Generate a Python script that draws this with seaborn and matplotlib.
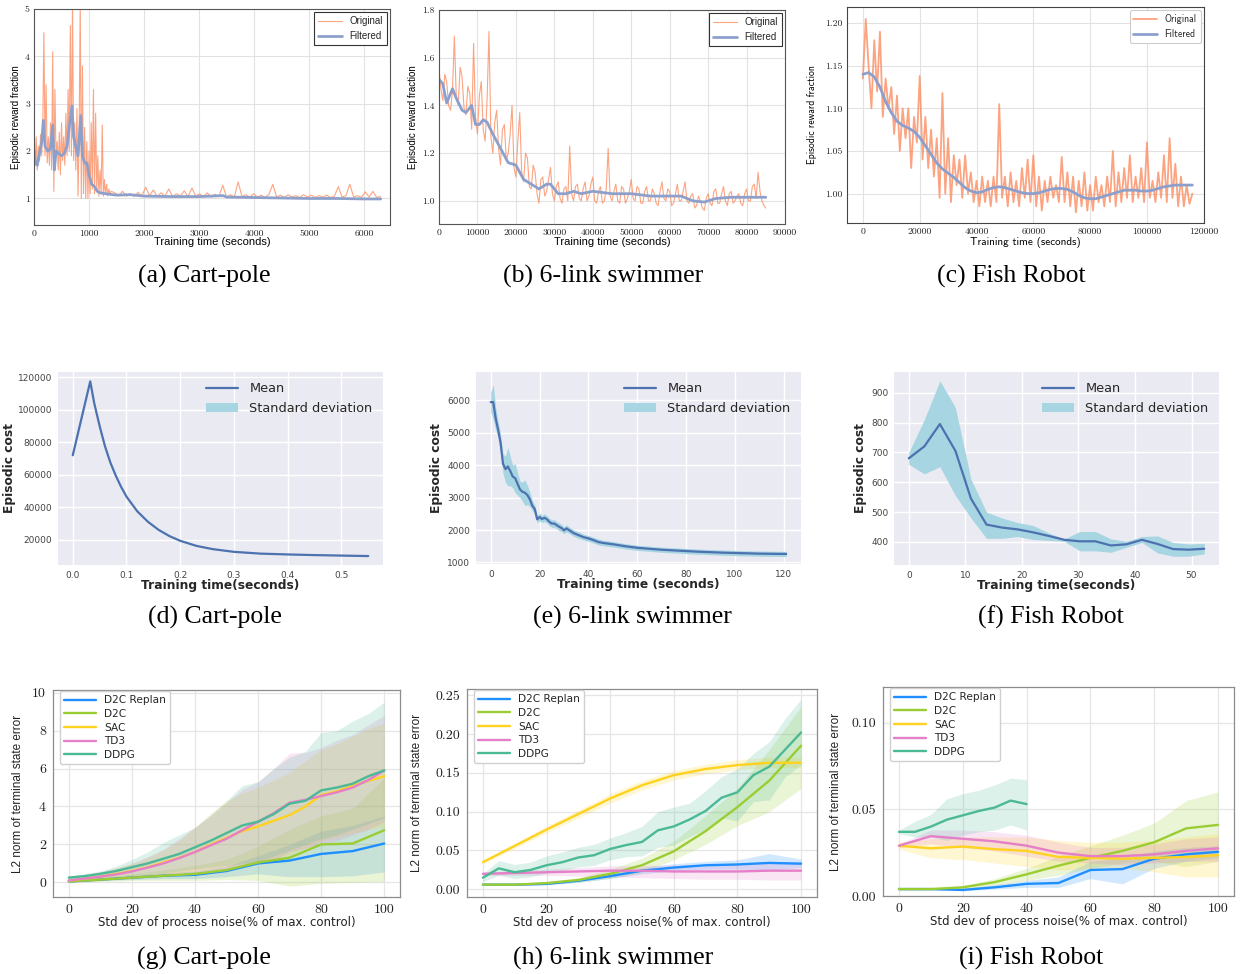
import numpy as np
import matplotlib
matplotlib.use("Agg")
import matplotlib.pyplot as plt
import seaborn as sns
from matplotlib import font_manager

sns.set_theme(style="white")
plt.rcParams["font.family"] = ["DejaVu Sans"]

_names = {f.name for f in font_manager.fontManager.ttflist}
NARROW = "Liberation Sans Narrow" if "Liberation Sans Narrow" in _names else "Liberation Sans"

# ---------------- row 1: reward fraction (original / filtered) ----------------
a_orig_early = [2.35, 1.7, 2.3, 1.6, 2.1, 1.8, 2.35, 1.9, 2.6, 4.5,
                1.9, 3.4, 1.75, 2.3, 1.7, 2.6, 1.6, 4.1, 1.15, 3.3,
                1.9, 2.2, 1.6, 2.4, 1.5, 2.6, 1.8, 2.3, 1.7, 2.8,
                1.9, 3.3, 2.0, 4.65, 1.9, 5.2, 1.8, 2.6, 1.6, 2.9,
                1.05, 2.3, 5.2, 1.0, 3.8, 1.1, 2.5, 1.0, 2.2, 1.0,
                2.0, 1.1, 2.6, 1.2, 3.3, 1.1, 2.8, 1.15, 1.9, 1.05,
                1.6, 1.1, 2.55, 1.05, 1.4, 1.1, 1.3, 1.05, 1.2, 1.1, 1.15]
a_orig_late = [1.12, 1.06, 1.15, 1.05, 1.1, 1.04, 1.13, 1.05, 1.24, 1.06,
               1.18, 1.04, 1.12, 1.05, 1.2, 1.04, 1.1, 1.05, 1.16, 1.04,
               1.22, 1.05, 1.1, 1.04, 1.12, 1.03, 1.09, 1.04, 1.28, 1.03,
               1.08, 1.03, 1.35, 1.04, 1.08, 1.03, 1.1, 1.03, 1.07, 1.02,
               1.09, 1.3, 1.03, 1.07, 1.02, 1.08, 1.03, 1.06, 1.02, 1.08,
               1.03, 1.07, 1.02, 1.06, 1.03, 1.07, 1.02, 1.05, 1.25, 1.03,
               1.06, 1.3, 1.03, 1.06, 1.02, 1.14, 1.03, 1.15, 1.02, 1.04]
a_filt_t = [0, 30, 60, 100, 140, 170, 200, 250, 300, 340, 370, 400, 450, 500, 550,
            600, 650, 690, 720, 760, 800, 850, 880, 920, 960, 1000, 1050, 1100, 1150,
            1200, 1300, 1500, 1750, 2000, 2500, 3000, 3440, 3500, 4000, 4500, 5000,
            5500, 6000, 6300]
a_filt = [2.0, 1.75, 1.7, 1.95, 2.2, 2.65, 2.1, 2.0, 2.05, 2.55, 1.6, 2.0, 1.95, 1.9, 1.95,
          2.1, 2.6, 2.95, 2.3, 2.1, 1.9, 2.75, 1.9, 1.75, 1.75, 1.5, 1.3, 1.25, 1.15,
          1.12, 1.1, 1.07, 1.08, 1.05, 1.04, 1.04, 1.06, 1.03, 1.02, 1.01, 1.0,
          1.0, 0.99, 0.99]

b_orig = [1.55, 1.47, 1.42, 1.53, 1.5, 1.4, 1.38, 1.46, 1.69, 1.43,
          1.4, 1.56, 1.52, 1.39, 1.36, 1.48, 1.45, 1.3, 1.66, 1.35,
          1.28, 1.44, 1.5, 1.3, 1.25, 1.42, 1.71, 1.27, 1.2, 1.33,
          1.38, 1.22, 1.15, 1.3, 1.32, 1.17, 1.2, 1.28, 1.4, 1.14,
          1.1, 1.25, 1.37, 1.12, 1.08, 1.2, 1.18, 1.06, 1.05, 1.15,
          1.12, 1.03, 0.99, 1.09, 1.1, 1.02, 1.04, 1.09, 1.14, 1.03,
          1.0, 1.06, 1.08, 1.01, 0.99, 1.05, 1.06, 1.0, 1.23, 1.03,
          1.0, 1.06, 1.07, 1.01, 1.0, 1.05, 1.08, 1.0, 1.02, 1.07,
          1.1, 1.0, 0.99, 1.04, 1.06, 0.99, 1.0, 1.05, 1.22, 1.02,
          1.0, 1.04, 1.07, 1.0, 0.99, 1.06, 1.05, 0.99, 1.01, 1.04,
          1.09, 1.01, 1.0, 1.06, 1.05, 0.99, 0.99, 1.04, 1.06, 1.0,
          1.0, 1.05, 1.03, 0.99, 0.98, 1.04, 1.08, 1.01, 1.0, 1.05,
          1.04, 0.98, 0.99, 1.03, 1.07, 1.0, 1.0, 1.04, 1.08, 1.0,
          0.99, 1.02, 1.03, 0.97, 0.98, 1.02, 1.0, 0.97, 0.96, 1.01,
          1.03, 0.99, 0.98, 1.04, 1.05, 0.99, 0.99, 1.03, 1.06, 1.0,
          0.98, 1.03, 1.04, 0.99, 1.0, 1.02, 1.03, 0.99, 0.98, 1.03,
          1.05, 1.0, 1.0, 1.06, 1.07, 1.01, 1.12, 1.04, 1.0, 0.98, 0.97]
b_filt_t = [0, 1000, 2000, 3000, 3500, 4500, 6000, 7000, 8500, 9500,
            10500, 11500, 12500, 14000, 16000, 18000, 20000, 22000, 24000, 26000,
            28000, 29000, 31000, 33000, 35000, 37000, 40000, 45000, 50000, 55000,
            60000, 63000, 66000, 69000, 72000, 76000, 80000, 85000]
b_filt = [1.51, 1.49, 1.41, 1.45, 1.47, 1.43, 1.38, 1.37, 1.4, 1.32,
          1.32, 1.34, 1.33, 1.28, 1.22, 1.16, 1.15, 1.09, 1.07, 1.05,
          1.07, 1.07, 1.03, 1.03, 1.04, 1.03, 1.04, 1.03, 1.03, 1.02,
          1.02, 1.02, 1.0, 0.995, 1.01, 1.015, 1.015, 1.015]

c_orig = [1.135, 1.205, 1.15, 1.10, 1.18, 1.12, 1.19, 1.09, 1.135, 1.10,
          1.125, 1.07, 1.115, 1.05, 1.10, 1.065, 1.10, 1.03, 1.09, 1.06,
          1.138, 1.04, 1.09, 1.03, 1.075, 1.02, 1.065, 0.995, 1.118, 1.00,
          1.065, 0.99, 1.045, 1.01, 1.04, 0.995, 1.045, 1.0, 1.025, 0.99,
          1.015, 0.985, 1.02, 0.99, 1.015, 0.985, 1.02, 0.99, 1.105, 0.995,
          1.02, 0.985, 1.025, 0.99, 1.015, 0.985, 1.03, 0.995, 1.04, 0.99,
          1.045, 0.985, 1.02, 0.98, 1.015, 0.99, 1.02, 0.995, 1.01, 0.99,
          1.043, 0.99, 1.025, 0.985, 1.02, 0.978, 1.015, 0.985, 1.025, 0.98,
          1.01, 0.98, 1.02, 0.99, 1.01, 0.985, 1.02, 0.99, 1.05, 0.985,
          1.025, 0.99, 1.03, 0.995, 1.045, 0.99, 1.02, 0.995, 1.03, 0.99,
          1.06, 0.995, 1.015, 0.99, 1.025, 0.995, 1.045, 0.99, 1.065, 0.995,
          1.035, 0.985, 1.02, 0.985, 1.01, 0.988, 1.0]
c_filt = [1.14, 1.142, 1.137, 1.125, 1.108, 1.095, 1.085, 1.08, 1.077, 1.073,
          1.066, 1.056, 1.046, 1.036, 1.029, 1.024, 1.019, 1.013, 1.007, 1.003,
          1.001, 1.002, 1.005, 1.007, 1.008, 1.007, 1.005, 1.003, 1.001, 1.0,
          1.0, 1.001, 1.003, 1.005, 1.006, 1.006, 1.005, 1.002, 0.998, 0.995,
          0.994, 0.994, 0.996, 0.998, 1.0, 1.002, 1.004, 1.004, 1.004, 1.003,
          1.003, 1.004, 1.006, 1.008, 1.009, 1.01, 1.01, 1.01, 1.01]

# ---------------- row 2: episodic cost (mean / std) ----------------
d_t = [0, 0.0325, 0.04, 0.05, 0.06, 0.07, 0.08, 0.09, 0.10, 0.12, 0.14,
       0.16, 0.18, 0.20, 0.23, 0.26, 0.30, 0.35, 0.40, 0.45, 0.50, 0.55]
d_mean = [72000, 117500, 104000, 90000, 77500, 67500, 59500, 52500, 46500, 37500, 31000,
          26000, 22200, 19300, 16200, 14200, 12500, 11400, 10900, 10500, 10200, 9900]
d_std = [300, 400, 350, 300, 300, 250, 250, 200, 200, 200, 150,
         150, 150, 100, 100, 100, 100, 100, 100, 100, 100, 100]

e_t = [0, 1, 2, 3, 4, 5, 6, 7, 8, 9, 10, 11, 12, 13, 14, 15, 16, 17, 18, 19, 20,
       21, 22, 23, 24, 25, 26, 27, 28, 29, 30, 31, 32, 34, 36, 38, 40, 42, 44, 46,
       48, 50, 55, 60, 65, 70, 75, 80, 85, 90, 95, 100, 105, 110, 115, 121]
e_mean = [5950, 5950, 5450, 5100, 4700, 4050, 3880, 3960, 3820, 3650, 3600,
          3420, 3250, 3180, 3150, 3080, 2950, 2750, 2650, 2330, 2400,
          2340, 2380, 2330, 2250, 2200, 2200, 2150, 2100, 2060, 1990, 2050, 2000,
          1900, 1840, 1780, 1740, 1690, 1630, 1600, 1580, 1560,
          1500, 1450, 1420, 1390, 1370, 1350, 1330, 1315, 1300, 1290, 1280, 1270, 1265, 1260]
e_std = [300, 550, 350, 250, 250, 300, 400, 600, 450, 350, 450,
         350, 250, 300, 400, 300, 220, 160, 130, 110, 120,
         110, 120, 110, 120, 110, 120, 110, 120, 110, 100, 110, 100,
         100, 100, 90, 90, 90, 90, 85, 85, 85,
         80, 80, 80, 80, 80, 80, 80, 80, 80, 80, 80, 80, 80, 80]

f_t = [0, 2.75, 5.5, 8.25, 11, 13.75, 16.5, 19.25, 22, 24.75,
       27.5, 30.25, 33, 35.75, 38.5, 41.25, 44, 46.75, 49.5, 52.25]
f_mean = [680, 720, 795, 705, 545, 458, 448, 442, 432, 420,
          407, 402, 402, 388, 392, 407, 393, 376, 374, 377]
f_lo = [660, 628, 652, 555, 480, 412, 412, 418, 408, 405,
        402, 370, 370, 365, 382, 398, 363, 352, 352, 360]
f_hi = [700, 810, 940, 850, 610, 500, 480, 465, 455, 430,
        410, 435, 435, 410, 402, 418, 420, 398, 393, 395]

# ---------------- row 3: terminal state error vs noise ----------------
noise10 = [0, 10, 20, 30, 40, 50, 60, 70, 80, 90, 100]
noise5 = [0, 5, 10, 15, 20, 25, 30, 35, 40, 45, 50, 55, 60, 65, 70, 75, 80, 85, 90, 95, 100]
methods = ["D2C Replan", "D2C", "SAC", "TD3", "DDPG"]
colors = ["#1f8fff", "#9acd32", "#ffd21f", "#e57fc8", "#4cb996"]

# cart-pole
g_replan = [0.05, 0.15, 0.25, 0.35, 0.4, 0.6, 1.0, 1.15, 1.5, 1.65, 2.05]
g_replan_lo = [0.0, 0.1, 0.15, 0.2, 0.2, 0.3, 0.45, 0.3, 0.3, 0.35, 0.55]
g_replan_hi = [0.1, 0.2, 0.35, 0.5, 0.6, 0.85, 1.4, 2.0, 2.7, 3.0, 3.5]
g_d2c = [0.05, 0.15, 0.25, 0.35, 0.45, 0.65, 1.05, 1.3, 2.0, 2.05, 2.75]
g_d2c_lo = [0.0, 0.05, 0.1, 0.1, 0.1, 0.15, 0.1, -0.2, -0.05, 0.0, 0.05]
g_d2c_hi = [0.1, 0.25, 0.45, 0.65, 0.9, 1.2, 1.9, 2.8, 3.5, 3.9, 5.5]
g_sac = [0.1, 0.2, 0.3, 0.45, 0.6, 0.8, 1.05, 1.3, 1.6, 2.0, 2.35,
         2.7, 2.95, 3.25, 3.55, 4.0, 4.6, 4.8, 5.1, 5.35, 5.6]
g_sac_lo = [0.0, 0.05, 0.1, 0.15, 0.2, 0.3, 0.4, 0.5, 0.6, 0.7, 0.8,
            0.9, 1.0, 1.2, 1.4, 1.8, 2.2, 2.4, 2.6, 2.8, 2.9]
g_sac_hi = [0.25, 0.4, 0.55, 0.75, 1.0, 1.3, 1.7, 2.2, 2.9, 3.6, 4.3,
            4.7, 5.0, 5.4, 5.8, 6.4, 7.0, 7.3, 7.7, 8.1, 8.4]
g_td3 = [0.1, 0.2, 0.3, 0.42, 0.58, 0.78, 1.0, 1.28, 1.6, 1.95, 2.3,
         2.75, 3.2, 3.65, 4.2, 4.35, 4.55, 4.75, 5.0, 5.4, 5.9]
g_td3_lo = [0.0, 0.05, 0.1, 0.15, 0.2, 0.25, 0.3, 0.4, 0.5, 0.6, 0.7,
            0.8, 1.0, 1.2, 1.6, 1.8, 2.0, 2.2, 2.5, 2.8, 3.2]
g_td3_hi = [0.3, 0.42, 0.55, 0.75, 1.0, 1.35, 1.75, 2.3, 2.9, 3.5, 4.2,
            4.9, 5.3, 6.0, 6.8, 6.85, 7.1, 7.5, 7.8, 8.3, 8.8]
g_ddpg = [0.25, 0.33, 0.45, 0.6, 0.8, 1.0, 1.25, 1.5, 1.85, 2.2, 2.6,
          3.0, 3.2, 3.6, 4.15, 4.3, 4.85, 5.0, 5.2, 5.6, 5.9]
g_ddpg_lo = [0.15, 0.18, 0.22, 0.27, 0.33, 0.4, 0.5, 0.6, 0.7, 0.8, 0.9,
             1.0, 1.1, 1.4, 1.7, 2.0, 2.3, 2.5, 2.8, 3.1, 3.4]
g_ddpg_hi = [0.35, 0.45, 0.6, 0.85, 1.2, 1.6, 2.1, 2.5, 2.9, 3.6, 4.3,
             5.1, 5.3, 6.0, 6.6, 6.9, 7.9, 8.0, 8.5, 8.9, 9.5]

# 6-link swimmer
h_replan = [0.006, 0.006, 0.007, 0.011, 0.017, 0.024, 0.028, 0.031, 0.032, 0.034, 0.033]
h_replan_lo = [0.005, 0.005, 0.006, 0.009, 0.014, 0.02, 0.024, 0.026, 0.026, 0.025, 0.028]
h_replan_hi = [0.007, 0.007, 0.008, 0.013, 0.02, 0.028, 0.033, 0.036, 0.038, 0.046, 0.039]
h_d2c = [0.006, 0.006, 0.008, 0.012, 0.02, 0.031, 0.049, 0.075, 0.106, 0.14, 0.185]
h_d2c_lo = [0.005, 0.005, 0.006, 0.009, 0.014, 0.022, 0.038, 0.058, 0.082, 0.1, 0.13]
h_d2c_hi = [0.007, 0.007, 0.01, 0.015, 0.026, 0.04, 0.062, 0.095, 0.13, 0.18, 0.235]
h_sac = [0.035, 0.056, 0.077, 0.097, 0.117, 0.134, 0.147, 0.155, 0.16, 0.163, 0.163]
h_sac_lo = [0.033, 0.053, 0.073, 0.092, 0.111, 0.128, 0.141, 0.149, 0.154, 0.157, 0.157]
h_sac_hi = [0.037, 0.059, 0.081, 0.102, 0.123, 0.14, 0.153, 0.161, 0.167, 0.17, 0.17]
h_td3 = [0.020, 0.021, 0.022, 0.023, 0.024, 0.024, 0.023, 0.023, 0.023, 0.024, 0.024]
h_td3_lo = [0.018, 0.018, 0.018, 0.017, 0.016, 0.015, 0.014, 0.013, 0.013, 0.012, 0.012]
h_td3_hi = [0.022, 0.024, 0.026, 0.028, 0.03, 0.031, 0.031, 0.032, 0.033, 0.035, 0.036]
h_ddpg = [0.015, 0.027, 0.022, 0.025, 0.031, 0.035, 0.041, 0.044, 0.052, 0.057, 0.061,
          0.076, 0.081, 0.09, 0.101, 0.118, 0.125, 0.147, 0.158, 0.18, 0.202]
h_ddpg_lo = [0.01, 0.018, 0.014, 0.016, 0.021, 0.024, 0.029, 0.031, 0.038, 0.042, 0.043,
             0.054, 0.057, 0.068, 0.077, 0.092, 0.088, 0.113, 0.115, 0.145, 0.16]
h_ddpg_hi = [0.02, 0.037, 0.032, 0.035, 0.043, 0.048, 0.054, 0.058, 0.066, 0.073, 0.081,
             0.1, 0.106, 0.111, 0.127, 0.145, 0.155, 0.175, 0.19, 0.22, 0.245]

# fish robot
i_replan = [0.004, 0.004, 0.0035, 0.005, 0.007, 0.0075, 0.015, 0.0155, 0.0215, 0.024, 0.0255]
i_replan_lo = [0.0035, 0.0035, 0.003, 0.004, 0.005, 0.005, 0.01, 0.007, 0.016, 0.02, 0.022]
i_replan_hi = [0.0045, 0.0045, 0.0045, 0.0065, 0.009, 0.011, 0.02, 0.022, 0.026, 0.028, 0.029]
i_d2c = [0.004, 0.004, 0.005, 0.008, 0.0125, 0.0175, 0.022, 0.026, 0.031, 0.039, 0.041]
i_d2c_lo = [0.0035, 0.0035, 0.004, 0.006, 0.009, 0.012, 0.016, 0.019, 0.02, 0.017, 0.02]
i_d2c_hi = [0.0045, 0.0045, 0.006, 0.01, 0.016, 0.023, 0.029, 0.035, 0.042, 0.055, 0.06]
i_sac = [0.029, 0.0275, 0.0285, 0.027, 0.026, 0.0225, 0.022, 0.0215, 0.022, 0.0225, 0.0235]
i_sac_lo = [0.027, 0.022, 0.021, 0.019, 0.017, 0.015, 0.016, 0.016, 0.014, 0.011, 0.011]
i_sac_hi = [0.031, 0.033, 0.034, 0.034, 0.034, 0.032, 0.031, 0.031, 0.032, 0.034, 0.036]
i_td3 = [0.029, 0.0345, 0.033, 0.0315, 0.029, 0.025, 0.023, 0.023, 0.024, 0.026, 0.0275]
i_td3_lo = [0.028, 0.03, 0.028, 0.026, 0.023, 0.02, 0.019, 0.018, 0.019, 0.02, 0.02]
i_td3_hi = [0.03, 0.038, 0.038, 0.037, 0.035, 0.031, 0.028, 0.028, 0.03, 0.033, 0.034]
i_ddpg_x = [0, 5, 10, 15, 20, 25, 30, 35, 40]
i_ddpg = [0.037, 0.037, 0.04, 0.044, 0.0465, 0.049, 0.051, 0.055, 0.053]
i_ddpg_lo = [0.036, 0.034, 0.034, 0.032, 0.035, 0.037, 0.038, 0.041, 0.038]
i_ddpg_hi = [0.038, 0.043, 0.047, 0.056, 0.059, 0.061, 0.064, 0.068, 0.067]

W, H = 1243, 974
fig = plt.figure(figsize=(W / 100, H / 100), dpi=100)


def add_ax(l, t, r, b):
    return fig.add_axes([l / W, 1 - b / H, (r - l) / W, (b - t) / H])


def caption(x, y, text):
    fig.text(x / W, 1 - y / H, text, ha="center", va="center",
             family="Liberation Serif", size=18.5, color="black")


# ---------- top row ----------
def top_panel(box, t_o, y_o, t_f, y_f, xlim, ylim, xt, yt, lab_font, ylx, xly, lw_o, fancy):
    ax = add_ax(*box)
    ax.set_facecolor("white")
    sns.lineplot(x=t_o, y=y_o, ax=ax, color="#fc8d62", lw=lw_o, alpha=0.8, label="Original")
    sns.lineplot(x=t_f, y=y_f, ax=ax, color="#8da0cb", lw=2.0, label="Filtered")
    ax.set_xlim(*xlim)
    ax.set_ylim(*ylim)
    ax.set_xticks(xt)
    ax.set_yticks(yt)
    ax.grid(True, color="#e2e2e2", lw=0.8)
    for s in ax.spines.values():
        s.set_visible(True)
        s.set_color("#555555" if not fancy else "#444444")
        s.set_linewidth(0.8)
    ax.tick_params(length=0, labelsize=7, labelfontfamily="cmr10", labelcolor="#222222", pad=3)
    ax.set_xlabel("Training time (seconds)", family=lab_font, size=8, color="black")
    ax.set_ylabel("Episodic reward fraction", family=lab_font, size=7, color="black")
    ax.xaxis.set_label_coords(0.5, xly)
    ax.yaxis.set_label_coords(ylx, 0.5)
    leg = ax.legend(loc="upper right", fancybox=fancy, framealpha=1,
                    borderaxespad=0.35, handlelength=2.4,
                    prop={"family": lab_font, "size": 7})
    leg.get_frame().set_edgecolor("#cccccc" if fancy else "#333333")
    leg.get_frame().set_linewidth(0.8)
    return ax


a_t = np.concatenate([np.linspace(0, 1400, len(a_orig_early)),
                      np.linspace(1470, 6300, len(a_orig_late))])
top_panel((34, 9, 390, 225), a_t, a_orig_early + a_orig_late, a_filt_t, a_filt,
          (0, 6470), (0.44, 5), range(0, 7000, 1000), [1, 2, 3, 4, 5],
          "Liberation Sans", -0.037, -0.056, 0.8, False)
top_panel((439, 10, 785, 224), np.linspace(0, 85000, len(b_orig)), b_orig, b_filt_t, b_filt,
          (0, 90000), (0.903, 1.8), range(0, 100000, 10000), [1.0, 1.2, 1.4, 1.6, 1.8],
          "Liberation Sans", -0.061, -0.061, 0.8, False)
top_panel((847, 7, 1204, 223), np.linspace(0, 116000, len(c_orig)), c_orig,
          np.linspace(0, 116000, len(c_filt)), c_filt,
          (-5600, 120100), (0.9655, 1.219), range(0, 140000, 20000),
          [1.00, 1.05, 1.10, 1.15, 1.20],
          "cmss10", -0.084, -0.065, 1.3, True)


# ---------- middle row ----------
def mid_panel(box, t, mean, lo, hi, xt, yt, ylx, xlabel, ylim=None):
    ax = add_ax(*box)
    ax.set_facecolor("#eaeaf2")
    ax.fill_between(t, lo, hi, color="#a8d5e2", lw=0, label="Standard deviation")
    sns.lineplot(x=t, y=mean, ax=ax, color="#4c72b0", lw=1.6, label="Mean")
    ax.set_xticks(xt)
    ax.set_yticks(yt)
    if ylim is not None:
        ax.set_ylim(*ylim)
    ax.grid(True, color="white", lw=1.0)
    for s in ax.spines.values():
        s.set_visible(False)
    ax.tick_params(length=0, labelsize=6.5, labelcolor="#444444", pad=4)
    ax.set_xlabel(xlabel, weight="bold", size=8.8, color="#262626")
    ax.set_ylabel("Episodic cost", weight="bold", size=8.8, color="#262626")
    ax.xaxis.set_label_coords(0.5, -0.075)
    ax.yaxis.set_label_coords(ylx, 0.5)
    h, l = ax.get_legend_handles_labels()
    order = [l.index("Mean"), l.index("Standard deviation")]
    ax.legend([h[k] for k in order], [l[k] for k in order], loc="upper right",
              frameon=False, fontsize=9.3, handlelength=2.5, handletextpad=0.9,
              borderaxespad=0.4)
    return ax


d_lo = [m - s for m, s in zip(d_mean, d_std)]
d_hi = [m + s for m, s in zip(d_mean, d_std)]
mid_panel((58, 372, 383, 565), d_t, d_mean, d_lo, d_hi,
          [0.0, 0.1, 0.2, 0.3, 0.4, 0.5], [20000, 40000, 60000, 80000, 100000, 120000],
          -0.13, "Training time(seconds)")
e_lo = [m - s for m, s in zip(e_mean, e_std)]
e_hi = [m + s for m, s in zip(e_mean, e_std)]
mid_panel((476, 372, 801, 564), e_t, e_mean, e_lo, e_hi,
          [0, 20, 40, 60, 80, 100, 120], [1000, 2000, 3000, 4000, 5000, 6000],
          -0.1015, "Training time (seconds)", ylim=(950, 6880))
mid_panel((894, 372, 1219, 565), f_t, f_mean, f_lo, f_hi,
          [0, 10, 20, 30, 40, 50], [400, 500, 600, 700, 800, 900],
          -0.083, "Training time(seconds)")


# ---------- bottom row ----------
def bottom_panel(box, series, ylim, yt, ylx):
    ax = add_ax(*box)
    ax.set_facecolor("white")
    for name, col, x, m, lo, hi in series:
        ax.fill_between(x, lo, hi, color=col, alpha=0.2, lw=0)
    for name, col, x, m, lo, hi in series:
        sns.lineplot(x=x, y=m, ax=ax, color=col, lw=1.7, label=name)
    ax.set_xlim(-5, 105)
    ax.set_ylim(*ylim)
    ax.set_xticks([0, 20, 40, 60, 80, 100])
    ax.set_yticks(yt)
    ax.grid(True, color="#e6e6e6", lw=0.9)
    for s in ax.spines.values():
        s.set_visible(True)
        s.set_color("#8c8c8c")
        s.set_linewidth(0.9)
    ax.tick_params(length=3, width=0.8, color="#8c8c8c", labelsize=10,
                   labelfontfamily="cmr10", labelcolor="#222222", pad=2)
    ax.set_xlabel("Std dev of process noise(% of max. control)", size=8.5, color="#222222")
    ax.set_ylabel("L2 norm of terminal state error", family=NARROW, size=8.5, color="#222222")
    ax.xaxis.set_label_coords(0.5, -0.09)
    ax.yaxis.set_label_coords(ylx, 0.5)
    leg = ax.legend(loc="upper left", bbox_to_anchor=(0.02, 0.995), borderaxespad=0,
                    fontsize=7.6, handlelength=3.0, labelspacing=0.35, framealpha=1)
    leg.get_frame().set_edgecolor("#d0d0d0")
    return ax


g_series = [
    (methods[0], colors[0], noise10, g_replan, g_replan_lo, g_replan_hi),
    (methods[1], colors[1], noise10, g_d2c, g_d2c_lo, g_d2c_hi),
    (methods[2], colors[2], noise5, g_sac, g_sac_lo, g_sac_hi),
    (methods[3], colors[3], noise5, g_td3, g_td3_lo, g_td3_hi),
    (methods[4], colors[4], noise5, g_ddpg, g_ddpg_lo, g_ddpg_hi),
]
bottom_panel((53, 690, 400, 897), g_series, (-0.77, 10.14), [0, 2, 4, 6, 8, 10], -0.084)

h_series = [
    (methods[0], colors[0], noise10, h_replan, h_replan_lo, h_replan_hi),
    (methods[1], colors[1], noise10, h_d2c, h_d2c_lo, h_d2c_hi),
    (methods[2], colors[2], noise10, h_sac, h_sac_lo, h_sac_hi),
    (methods[3], colors[3], noise10, h_td3, h_td3_lo, h_td3_hi),
    (methods[4], colors[4], noise5, h_ddpg, h_ddpg_lo, h_ddpg_hi),
]
bottom_panel((467, 689, 817, 897), h_series, (-0.0099, 0.258),
             [0.0, 0.05, 0.10, 0.15, 0.20, 0.25], -0.126)

i_series = [
    (methods[0], colors[0], noise10, i_replan, i_replan_lo, i_replan_hi),
    (methods[1], colors[1], noise10, i_d2c, i_d2c_lo, i_d2c_hi),
    (methods[2], colors[2], noise10, i_sac, i_sac_lo, i_sac_hi),
    (methods[3], colors[3], noise10, i_td3, i_td3_lo, i_td3_hi),
    (methods[4], colors[4], i_ddpg_x, i_ddpg, i_ddpg_lo, i_ddpg_hi),
]
bottom_panel((883, 687, 1234, 896), i_series, (0.0, 0.1205), [0.0, 0.05, 0.10], -0.117)

# ---------- captions ----------
caption(204, 276, "(a) Cart-pole")
caption(603, 276, "(b) 6-link swimmer")
caption(1011, 276, "(c) Fish Robot")
caption(215, 617, "(d) Cart-pole")
caption(632, 617, "(e) 6-link swimmer")
caption(1051, 617, "(f) Fish Robot")
caption(204, 958, "(g) Cart-pole")
caption(613, 958, "(h) 6-link swimmer")
caption(1031, 958, "(i) Fish Robot")

fig.savefig("out.png", dpi=100)
